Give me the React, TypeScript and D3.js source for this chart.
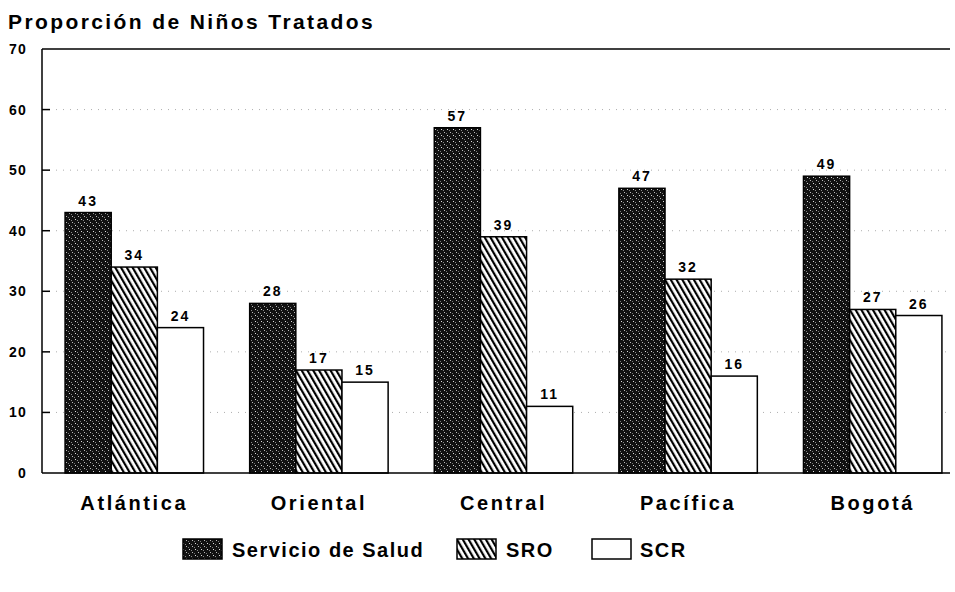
import React from "react";
import * as d3 from "d3";

const categories = ["Atlántica", "Oriental", "Central", "Pacífica", "Bogotá"];
const seriesNames = ["Servicio de Salud", "SRO", "SCR"];
const servicioSalud = [43, 28, 57, 47, 49];
const sro = [34, 17, 39, 32, 27];
const scr = [24, 15, 11, 16, 26];
const yTicks = [0, 10, 20, 30, 40, 50, 60, 70];
const title = "Proporción de Niños Tratados";

const W = 955;
const H = 592;
const left = 42;
const right = 950;
const top = 49;
const bottom = 473;

export default function App() {
  const y = d3.scaleLinear().domain([0, 70]).range([bottom, top]);
  const x0 = d3.scaleBand<string>().domain(categories).range([42, 965]).paddingInner(0.25).paddingOuter(0.125);
  const x1 = d3.scaleBand<string>().domain(seriesNames).range([0, x0.bandwidth()]);
  const series = [servicioSalud, sro, scr];
  const fills = ["url(#dots)", "url(#hatch)", "#fff"];
  const font = "'Liberation Sans', Arial, sans-serif";

  const legendItems = [
    { name: seriesNames[0], box: 183, text: 232, fill: fills[0] },
    { name: seriesNames[1], box: 457, text: 506, fill: fills[1] },
    { name: seriesNames[2], box: 592, text: 640, fill: fills[2] },
  ];

  return (
    <svg width={W} height={H} style={{ position: "absolute", left: 0, top: 0, background: "#fff" }}>
      <defs>
        <pattern id="dots" width="6" height="6" patternUnits="userSpaceOnUse">
          <rect width="6" height="6" fill="#111" />
          <rect x="0" y="0" width="1" height="1" fill="#bbb" />
          <rect x="3" y="3" width="1" height="1" fill="#ddd" />
          <rect x="2" y="1" width="1" height="1" fill="#777" />
          <rect x="5" y="4" width="1" height="1" fill="#888" />
        </pattern>
        <pattern id="hatch" width="5" height="5" patternUnits="userSpaceOnUse" patternTransform="rotate(-30)">
          <rect width="5" height="5" fill="#fff" />
          <rect x="0" y="0" width="2.2" height="5" fill="#000" />
        </pattern>
      </defs>
      <text x={8} y={29} fontFamily={font} fontWeight="bold" fontSize={21} letterSpacing={2.4} fill="#000">
        {title}
      </text>
      {/* gridlines */}
      {yTicks.filter((t) => t > 0 && t < 70).map((t) => (
        <line key={"g" + t} x1={left} x2={right} y1={y(t)} y2={y(t)} stroke="#999" strokeWidth={0.8} strokeDasharray="1 6" />
      ))}
      {/* top frame line */}
      <line x1={left} x2={right} y1={y(70)} y2={y(70)} stroke="#000" strokeWidth={1.5} />
      {/* bars */}
      {categories.map((c, i) => (
        <g key={c}>
          {series.map((s, j) => {
            const bx = (x0(c) as number) + (x1(seriesNames[j]) as number);
            const by = y(s[i]);
            return (
              <g key={j}>
                <rect x={bx} y={by} width={x1.bandwidth()} height={bottom - by} fill={fills[j]} stroke="#000" strokeWidth={1.5} />
                <text x={bx + x1.bandwidth() / 2} y={by - 7} textAnchor="middle" fontFamily={font} fontWeight="bold" fontSize={14} letterSpacing={2} fill="#000">
                  {s[i]}
                </text>
              </g>
            );
          })}
          <text x={(x0(c) as number) + x0.bandwidth() / 2} y={510} textAnchor="middle" fontFamily={font} fontWeight="bold" fontSize={20} letterSpacing={2.6} fill="#000">
            {c}
          </text>
        </g>
      ))}
      {/* axes */}
      <line x1={left} x2={left} y1={top} y2={bottom} stroke="#000" strokeWidth={1.5} />
      <line x1={left} x2={right} y1={bottom} y2={bottom} stroke="#000" strokeWidth={1.5} />
      {yTicks.map((t) => (
        <g key={"t" + t}>
          {t > 0 && t < 70 && <line x1={left} x2={left + 8} y1={y(t)} y2={y(t)} stroke="#000" strokeWidth={1.5} />}
          <text x={27} y={y(t) + 5} textAnchor="end" fontFamily={font} fontWeight="bold" fontSize={14} letterSpacing={1.2} fill="#000">
            {t}
          </text>
        </g>
      ))}
      {/* legend */}
      {legendItems.map((l) => (
        <g key={l.name}>
          <rect x={l.box} y={539} width={39} height={20} fill={l.fill} stroke="#000" strokeWidth={1.5} />
          <text x={l.text} y={557} fontFamily={font} fontWeight="bold" fontSize={20} letterSpacing={1.5} fill="#000">
            {l.name}
          </text>
        </g>
      ))}
    </svg>
  );
}
